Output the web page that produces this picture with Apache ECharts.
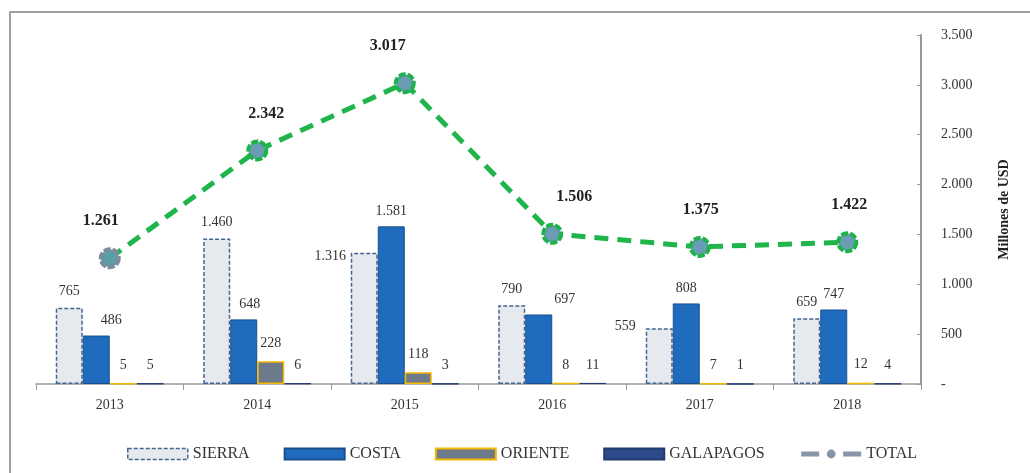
<!DOCTYPE html>
<html>
<head>
<meta charset="utf-8">
<script src="https://cdn.jsdelivr.net/npm/echarts@6/dist/echarts.min.js"></script>
<style>
  html, body { margin: 0; padding: 0; background: #fff; }
  #main { width: 1030px; height: 473px; }
</style>
</head>
<body>
<div id="main"></div>
<script>
var years = ['2013', '2014', '2015', '2016', '2017', '2018']
var sierra = [765, 1460, 1316, 790, 559, 659]
var costa = [486, 648, 1581, 697, 808, 747]
var oriente = [5, 228, 118, 8, 7, 12]
var galapagos = [5, 6, 3, 11, 1, 4]
var total = [1261, 2342, 3017, 1506, 1375, 1422]

var serif = '"Liberation Serif", "DejaVu Serif", serif'

function fmt(v) {
  if (v === 0) return '-'
  return String(v).replace(/\B(?=(\d{3})+(?!\d))/g, '.')
}

// hand-placed label nudges, like in the original
var sierraShift = [[0, 0], [0, 0], [-34, 20], [0, 0], [-34, 14], [0, 0]]
var costaShift = [[15, 0], [6, 0], [0, 0], [26, 0], [0, 0], [0, 0]]
var totalShift = [[-9, 0], [9, 0], [-17, 0], [22, 0], [1, 0], [2, 0]]

function withLabels(values, shifts) {
  return values.map(function(v, i) {
    return {value: v, label: {offset: shifts[i]}}
  })
}

var labelBase = {
  show: true,
  position: 'top',
  fontFamily: serif,
  fontSize: 14,
  color: '#333',
  formatter: function(p) { return fmt(p.value) }
}

var totalData = total.map(function(v, i) {
  var item = {value: v, label: {offset: totalShift[i]}}
  if (i === 0) {
    item.itemStyle = {color: '#5a9ea8', borderColor: '#7f8b9b'}
  }
  return item
})

var myChart = echarts.init(document.getElementById('main'))
var option = {
  animation: false,
  graphic: [{
    type: 'rect',
    shape: {x: 10, y: 12, width: 1040, height: 480},
    style: {fill: 'none', stroke: '#a0a0a0', lineWidth: 2},
    z: -1
  }],
  grid: {
    left: 36,
    right: 109,
    top: 35,
    bottom: 89
  },
  legend: {
    left: 122,
    top: 441,
    itemWidth: 60,
    itemHeight: 11,
    itemGap: 34,
    textStyle: {fontFamily: serif, fontSize: 16, color: '#333'},
    data: [
      {name: 'SIERRA', icon: 'rect', itemStyle: {borderType: [4, 2], borderColor: '#45668e', borderWidth: 1.5}},
      {name: 'COSTA', icon: 'rect'},
      {name: 'ORIENTE', icon: 'rect'},
      {name: 'GALAPAGOS', icon: 'rect'},
      {name: 'TOTAL', itemStyle: {color: '#8796a8', borderWidth: 0}, lineStyle: {color: '#8796a8', type: [18, 24], width: 5}}
    ]
  },
  xAxis: {
    type: 'category',
    data: years,
    axisLine: {lineStyle: {color: '#999', width: 1.5}},
    axisTick: {show: true, length: 6, lineStyle: {color: '#999'}},
    axisLabel: {fontFamily: serif, fontSize: 14, color: '#333', margin: 14}
  },
  yAxis: {
    type: 'value',
    position: 'right',
    min: 0,
    max: 3500,
    interval: 500,
    name: 'Millones de USD',
    nameLocation: 'middle',
    nameRotate: 90,
    nameGap: 76,
    nameTextStyle: {fontFamily: serif, fontSize: 14, fontWeight: 'bold', color: '#222'},
    axisLine: {show: true, lineStyle: {color: '#999', width: 2}},
    axisTick: {show: true, inside: true, length: 4, lineStyle: {color: '#999'}},
    splitLine: {show: false},
    axisLabel: {fontFamily: serif, fontSize: 14, color: '#333', margin: 20, formatter: fmt}
  },
  series: [
    {
      name: 'SIERRA',
      type: 'bar',
      data: withLabels(sierra, sierraShift),
      barWidth: 27,
      barGap: '0%',
      itemStyle: {color: '#e6e9ee', borderColor: '#45668e', borderWidth: 1.5, borderType: [4, 2]},
      label: Object.assign({}, labelBase, {distance: 9})
    },
    {
      name: 'COSTA',
      type: 'bar',
      data: withLabels(costa, costaShift),
      barWidth: 27,
      barGap: '0%',
      itemStyle: {color: '#1f6bbd', borderColor: '#1a4f8e', borderWidth: 1},
      label: Object.assign({}, labelBase, {distance: 8})
    },
    {
      name: 'ORIENTE',
      type: 'bar',
      data: oriente,
      barWidth: 27,
      barGap: '0%',
      itemStyle: {color: '#6c7a8c', borderColor: '#f3b800', borderWidth: 1.5},
      label: Object.assign({}, labelBase, {distance: 11})
    },
    {
      name: 'GALAPAGOS',
      type: 'bar',
      data: galapagos,
      barWidth: 27,
      barGap: '0%',
      itemStyle: {color: '#2e4a8a', borderColor: '#233a6e', borderWidth: 1},
      label: Object.assign({}, labelBase, {distance: 11})
    },
    {
      name: 'TOTAL',
      type: 'line',
      data: totalData,
      z: 10,
      symbol: 'circle',
      symbolSize: 18,
      lineStyle: {color: '#1fb54a', width: 5, type: [14, 9]},
      itemStyle: {color: '#6a9db5', borderColor: '#1db34a', borderWidth: 4, borderType: [7, 2]},
      label: {
        show: true,
        position: 'top',
        distance: 18,
        fontFamily: serif,
        fontSize: 16,
        fontWeight: 'bold',
        color: '#222',
        formatter: function(p) { return fmt(p.value) }
      }
    }
  ]
}
myChart.setOption(option)
</script>
</body>
</html>
